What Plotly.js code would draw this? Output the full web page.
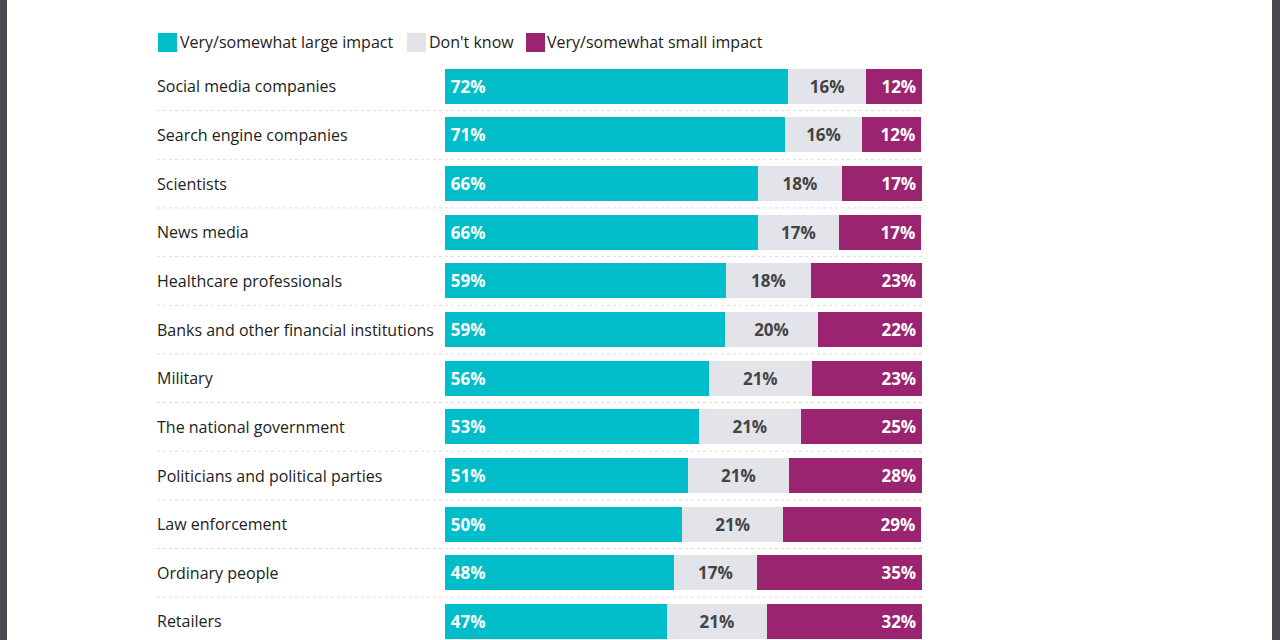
<!DOCTYPE html>
<html>
<head>
<meta charset="utf-8">
<script src="https://cdn.plot.ly/plotly-3.0.1.min.js"></script>
<style>
  html, body { margin: 0; padding: 0; background: #fff; }
  #wrap { position: relative; width: 1280px; height: 640px; overflow: hidden; }
  #chart { width: 1280px; height: 640px; }
  .edge { position: absolute; top: 0; width: 8px; height: 640px; background: #474b50; }
</style>
</head>
<body>
<div id="wrap">
  <div id="chart"></div>
  <div class="edge" style="left:0;width:7px"></div>
  <div class="edge" style="left:1272px"></div>
</div>
<script>
const categories = [
  "Social media companies",
  "Search engine companies",
  "Scientists",
  "News media",
  "Healthcare professionals",
  "Banks and other financial institutions",
  "Military",
  "The national government",
  "Politicians and political parties",
  "Law enforcement",
  "Ordinary people",
  "Retailers"
];
const seriesNames = ["Very/somewhat large impact", "Don't know", "Very/somewhat small impact"];
const largeImpact = [71.9, 71.3, 65.6, 65.6, 58.9, 58.7, 55.3, 53.2, 50.9, 49.7, 48.0, 46.5];
const dontKnow    = [16.4, 16.1, 17.6, 17.0, 17.8, 19.5, 21.6, 21.4, 21.2, 21.2, 17.4, 21.0];
const smallImpact = [11.7, 12.4, 16.8, 17.2, 23.3, 21.8, 23.1, 25.4, 27.9, 28.9, 34.6, 32.5];
const largeLabels = ["72%","71%","66%","66%","59%","59%","56%","53%","51%","50%","48%","47%"];
const dkLabels    = ["16%","16%","18%","17%","18%","20%","21%","21%","21%","21%","17%","21%"];
const smallLabels = ["12%","12%","17%","17%","23%","22%","23%","25%","28%","29%","35%","32%"];

const colors = ["#00bec9", "#e2e4ea", "#9b2470"];
const textColors = ["#ffffff", "#444444", "#ffffff"];
const anchors = ["start", "middle", "end"];

// geometry
const W = 1280, H = 640;
const mL = 157, mR = 1280 - 922, mT = 62, mB = 0;
const barStartPx = 445;
const pxPerUnit = (922 - barStartPx) / 100;
const xMin = -(barStartPx - mL) / pxPerUnit;
const plotH = H - mT - mB;
const slot = 48.65;
const yBottom = -0.5 + plotH / slot;
const px2x = px => (px - barStartPx) / pxPerUnit;
const py2paper = py => (H - mB - py) / plotH;

const yIdx = categories.map((c, i) => i);
const vals = [largeImpact, dontKnow, smallImpact];
const labs = [largeLabels, dkLabels, smallLabels];

const traces = vals.map((v, k) => ({
  type: "bar",
  orientation: "h",
  name: seriesNames[k],
  x: v,
  y: yIdx,
  text: labs[k].map(t => k === 0 ? "\u2009" + t : (k === 2 ? t + "\u2009" : t)),
  textposition: "inside",
  insidetextanchor: anchors[k],
  textangle: 0,
  constraintext: "none",
  textfont: { family: "Open Sans", size: 17, color: textColors[k], weight: 700 },
  marker: { color: colors[k], line: { width: 0 } },
  hoverinfo: "skip",
  showlegend: false
}));

const annotations = categories.map((c, i) => ({
  x: xMin, y: i, xref: "x", yref: "y", xshift: -2,
  text: c, showarrow: false, xanchor: "left", yanchor: "middle",
  font: { family: "Open Sans", size: 16, color: "#222222" }
}));

const shapes = [];
for (let i = 0; i < categories.length - 1; i++) {
  shapes.push({
    type: "line", xref: "x", yref: "y",
    x0: xMin, x1: 100, y0: i + 0.5, y1: i + 0.5,
    line: { color: "#dcdcdc", width: 1, dash: "dot" }
  });
}

// custom legend
const legendItems = [
  { sq: 158, tx: 178 },
  { sq: 407, tx: 427 },
  { sq: 526, tx: 545 }
];
legendItems.forEach((it, k) => {
  shapes.push({
    type: "rect", xref: "x", yref: "paper",
    x0: px2x(it.sq), x1: px2x(it.sq + 19),
    y0: py2paper(52), y1: py2paper(33),
    fillcolor: colors[k], line: { width: 0 }
  });
  annotations.push({
    x: px2x(it.tx), y: py2paper(42), xref: "x", yref: "paper",
    text: seriesNames[k], showarrow: false, xanchor: "left", yanchor: "middle",
    font: { family: "Open Sans", size: 16, color: "#222222" }
  });
});

const layout = {
  width: W, height: H,
  margin: { l: mL, r: mR, t: mT, b: mB, pad: 0 },
  paper_bgcolor: "#ffffff",
  plot_bgcolor: "#ffffff",
  barmode: "stack",
  bargap: 0.28,
  showlegend: false,
  xaxis: { range: [xMin, 100], visible: false, fixedrange: true },
  yaxis: { range: [yBottom, -0.5], visible: false, fixedrange: true },
  annotations: annotations,
  shapes: shapes,
  uniformtext: { mode: false }
};

Plotly.newPlot("chart", traces, layout, { displayModeBar: false, staticPlot: true });
</script>
</body>
</html>
